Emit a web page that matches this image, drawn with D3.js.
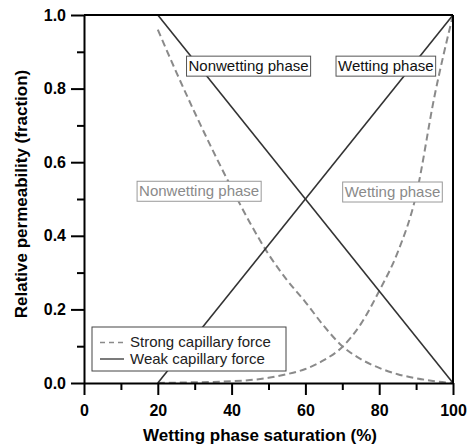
<!DOCTYPE html>
<html>
<head>
	<style type="text/css">
		body{ margin:0; background:white; }
		text{ font-family: Arial, "Liberation Sans", sans-serif; }
	</style>
</head>
<body>
<div id="chart"></div>
<script src="https://d3js.org/d3.v7.min.js"></script>
<script type="text/javascript">
	// weak capillary force (straight lines)
	var weakSw = [20, 100];
	var weakWetting = [0, 1];
	var weakNonwetting = [1, 0];

	// strong capillary force
	var strongSw = [20, 25, 30, 35, 40, 45, 50, 55, 60, 65, 70, 75, 80, 85, 90, 95, 100];
	var strongNonwetting = [0.96, 0.845, 0.735, 0.63, 0.53, 0.435, 0.35, 0.28, 0.22, 0.155, 0.10, 0.065, 0.041, 0.024, 0.013, 0.005, 0];
	var strongWetting = [0, 0.001, 0.002, 0.003, 0.005, 0.008, 0.014, 0.024, 0.038, 0.062, 0.098, 0.16, 0.25, 0.355, 0.51, 0.78, 1.0];

	var xTicks = [0, 20, 40, 60, 80, 100];
	var xMinor = [10, 30, 50, 70, 90];
	var yTicks = [0, 0.2, 0.4, 0.6, 0.8, 1.0];
	var yMinor = [0.1, 0.3, 0.5, 0.7, 0.9];

	// phase labels: [text, x, y, group]
	var labels = [
		["Nonwetting phase", 44.6, 0.861, "weak"],
		["Wetting phase", 81.8, 0.861, "weak"],
		["Nonwetting phase", 31.2, 0.521, "strong"],
		["Wetting phase", 83.6, 0.519, "strong"]
	];

	var W = 471, H = 447;
	var x = d3.scaleLinear().domain([0, 100]).range([84, 453]);
	var y = d3.scaleLinear().domain([0, 1]).range([383, 15]);

	var svg = d3.select("#chart").append("svg")
		.attr("width", W)
		.attr("height", H);

	var line = d3.line()
		.x(function(d){ return x(d[0]); })
		.y(function(d){ return y(d[1]); });

	var smooth = d3.line()
		.curve(d3.curveMonotoneX)
		.x(function(d){ return x(d[0]); })
		.y(function(d){ return y(d[1]); });

	function pairs(xs, ys){
		return xs.map(function(v, i){ return [v, ys[i]]; });
	}

	//dashed curves
	[strongNonwetting, strongWetting].forEach(function(s){
		svg.append("path")
			.attr("d", smooth(pairs(strongSw, s)))
			.attr("fill", "none")
			.attr("stroke", "#8a8a8a")
			.attr("stroke-width", 2)
			.attr("stroke-dasharray", "7,4");
	});

	//solid lines
	[weakNonwetting, weakWetting].forEach(function(s){
		svg.append("path")
			.attr("d", line(pairs(weakSw, s)))
			.attr("fill", "none")
			.attr("stroke", "#333")
			.attr("stroke-width", 1.6);
	});

	//frame top + right
	svg.append("line")
		.attr("x1", x(0)).attr("x2", x(100))
		.attr("y1", y(1)).attr("y2", y(1))
		.attr("stroke", "#000").attr("stroke-width", 2);
	svg.append("line")
		.attr("x1", x(100)).attr("x2", x(100))
		.attr("y1", y(0)).attr("y2", y(1))
		.attr("stroke", "#000").attr("stroke-width", 2);

	//minor ticks
	svg.append("g")
		.attr("transform", "translate(0," + y(0) + ")")
		.call(d3.axisBottom(x).tickValues(xMinor).tickSize(7).tickFormat(""))
		.call(function(g){ g.select(".domain").remove(); });
	svg.append("g")
		.attr("transform", "translate(" + x(0) + ",0)")
		.call(d3.axisLeft(y).tickValues(yMinor).tickSize(7).tickFormat(""))
		.call(function(g){ g.select(".domain").remove(); });

	//x axis
	var gx = svg.append("g")
		.attr("transform", "translate(0," + y(0) + ")")
		.call(d3.axisBottom(x).tickValues(xTicks).tickSize(12).tickSizeOuter(0).tickPadding(10).tickFormat(d3.format("d")));

	//y axis
	var gy = svg.append("g")
		.attr("transform", "translate(" + x(0) + ",0)")
		.call(d3.axisLeft(y).tickValues(yTicks).tickSize(13).tickSizeOuter(0).tickPadding(5).tickFormat(d3.format(".1f")));

	[gx, gy].forEach(function(g){
		g.select(".domain").attr("stroke-width", 2).attr("stroke", "#000");
		g.selectAll(".tick text")
			.attr("font-family", "Arial, 'Liberation Sans', sans-serif")
			.attr("font-size", "16px")
			.attr("font-weight", "bold")
			.attr("fill", "#000");
	});
	svg.selectAll(".tick line").attr("stroke-width", 2).attr("stroke", "#000");

	//axis titles
	svg.append("text")
		.attr("x", 260)
		.attr("y", 441)
		.attr("text-anchor", "middle")
		.attr("font-size", "17px")
		.attr("font-weight", "bold")
		.text("Wetting phase saturation (%)");

	svg.append("text")
		.attr("transform", "translate(27,194) rotate(-90)")
		.attr("text-anchor", "middle")
		.attr("font-size", "17px")
		.attr("font-weight", "bold")
		.text("Relative permeability (fraction)");

	//phase labels
	labels.forEach(function(l){
		var col = l[3] == "weak" ? "#111" : "#8a8a8a";
		var g = svg.append("g");
		var t = g.append("text")
			.attr("x", x(l[1]))
			.attr("y", y(l[2]) + 5)
			.attr("text-anchor", "middle")
			.attr("font-size", "15px")
			.attr("fill", col)
			.text(l[0]);
		var bb = t.node().getBBox();
		g.insert("rect", "text")
			.attr("x", bb.x - 2)
			.attr("y", y(l[2]) - 10)
			.attr("width", bb.width + 4)
			.attr("height", 20)
			.attr("fill", "white")
			.attr("stroke", l[3] == "weak" ? "#555" : "#999")
			.attr("stroke-width", 1);
	});

	//legend
	var legend = svg.append("g").attr("transform", "translate(92,327)");
	legend.append("rect")
		.attr("width", 194)
		.attr("height", 44)
		.attr("fill", "white")
		.attr("stroke", "#444")
		.attr("stroke-width", 1);
	var entries = [["Strong capillary force", true], ["Weak capillary force", false]];
	entries.forEach(function(e, i){
		legend.append("line")
			.attr("x1", 8).attr("x2", 32)
			.attr("y1", 15.5 + i * 16.5).attr("y2", 15.5 + i * 16.5)
			.attr("stroke", e[1] ? "#8a8a8a" : "#333")
			.attr("stroke-width", e[1] ? 1.5 : 1.3)
			.attr("stroke-dasharray", e[1] ? "5,4" : null);
		legend.append("text")
			.attr("x", 38)
			.attr("y", 20 + i * 16.5)
			.attr("font-size", "15px")
			.attr("fill", "#222")
			.text(e[0]);
	});
</script>
</body>
</html>
